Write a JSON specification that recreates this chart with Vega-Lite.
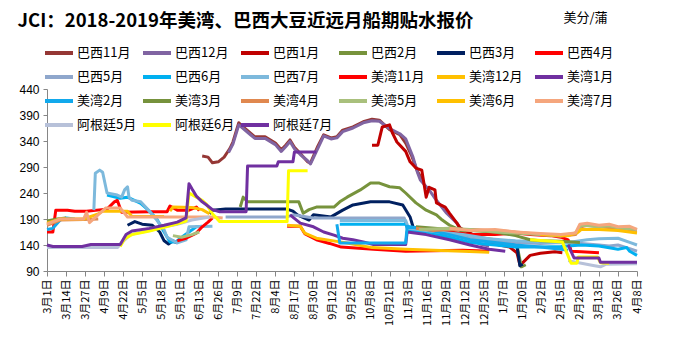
{
  "$schema": "https://vega.github.io/schema/vega-lite/v6.json",
  "autosize": "none",
  "width": 590,
  "height": 182,
  "padding": {"left": 47, "top": 89, "right": 36, "bottom": 70},
  "background": "white",
  "config": {"view": {"stroke": null}, "font": "Noto Sans CJK SC"},
  "data": {"values": [
    {"s":"巴西11月","g":1,"d":"2018-06-15","v":311},{"s":"巴西11月","g":1,"d":"2018-06-19","v":309},{"s":"巴西11月","g":1,"d":"2018-06-22","v":298},{"s":"巴西11月","g":1,"d":"2018-06-26","v":300},{"s":"巴西11月","g":1,"d":"2018-06-30","v":309},{"s":"巴西11月","g":1,"d":"2018-07-04","v":326},{"s":"巴西11月","g":1,"d":"2018-07-06","v":338},{"s":"巴西11月","g":1,"d":"2018-07-10","v":375},{"s":"巴西11月","g":1,"d":"2018-07-13","v":367},{"s":"巴西11月","g":1,"d":"2018-07-18","v":355},{"s":"巴西11月","g":1,"d":"2018-07-21","v":348},{"s":"巴西11月","g":1,"d":"2018-07-28","v":348},{"s":"巴西11月","g":1,"d":"2018-08-04","v":336},{"s":"巴西11月","g":1,"d":"2018-08-08","v":323},{"s":"巴西11月","g":1,"d":"2018-08-11","v":332},{"s":"巴西11月","g":1,"d":"2018-08-14","v":342},{"s":"巴西11月","g":1,"d":"2018-08-17","v":328},{"s":"巴西11月","g":1,"d":"2018-08-21","v":316},{"s":"巴西11月","g":1,"d":"2018-08-26","v":300},{"s":"巴西11月","g":1,"d":"2018-08-28","v":298},{"s":"巴西11月","g":1,"d":"2018-09-02","v":330},{"s":"巴西11月","g":1,"d":"2018-09-06","v":352},{"s":"巴西11月","g":1,"d":"2018-09-11","v":346},{"s":"巴西11月","g":1,"d":"2018-09-15","v":348},{"s":"巴西11月","g":1,"d":"2018-09-19","v":361},{"s":"巴西11月","g":1,"d":"2018-09-26","v":367},{"s":"巴西11月","g":1,"d":"2018-10-03","v":377},{"s":"巴西11月","g":1,"d":"2018-10-09","v":382},{"s":"巴西11月","g":1,"d":"2018-10-14","v":380},{"s":"巴西11月","g":1,"d":"2018-10-21","v":362},{"s":"巴西11月","g":1,"d":"2018-10-28","v":352},{"s":"巴西11月","g":1,"d":"2018-11-01","v":336},{"s":"巴西11月","g":1,"d":"2018-11-05","v":312},{"s":"巴西11月","g":1,"d":"2018-11-09","v":282},{"s":"巴西11月","g":1,"d":"2018-11-13","v":262},

    {"s":"巴西12月","g":1,"d":"2018-07-03","v":318},{"s":"巴西12月","g":1,"d":"2018-07-06","v":334},{"s":"巴西12月","g":1,"d":"2018-07-10","v":371},{"s":"巴西12月","g":1,"d":"2018-07-13","v":364},{"s":"巴西12月","g":1,"d":"2018-07-18","v":352},{"s":"巴西12月","g":1,"d":"2018-07-21","v":345},{"s":"巴西12月","g":1,"d":"2018-07-28","v":345},{"s":"巴西12月","g":1,"d":"2018-08-04","v":333},{"s":"巴西12月","g":1,"d":"2018-08-08","v":320},{"s":"巴西12月","g":1,"d":"2018-08-11","v":329},{"s":"巴西12月","g":1,"d":"2018-08-14","v":339},{"s":"巴西12月","g":1,"d":"2018-08-17","v":325},{"s":"巴西12月","g":1,"d":"2018-08-21","v":314},{"s":"巴西12月","g":1,"d":"2018-08-26","v":302},{"s":"巴西12月","g":1,"d":"2018-08-28","v":296},{"s":"巴西12月","g":1,"d":"2018-09-02","v":326},{"s":"巴西12月","g":1,"d":"2018-09-06","v":350},{"s":"巴西12月","g":1,"d":"2018-09-11","v":344},{"s":"巴西12月","g":1,"d":"2018-09-15","v":346},{"s":"巴西12月","g":1,"d":"2018-09-19","v":358},{"s":"巴西12月","g":1,"d":"2018-09-26","v":365},{"s":"巴西12月","g":1,"d":"2018-10-03","v":375},{"s":"巴西12月","g":1,"d":"2018-10-09","v":379},{"s":"巴西12月","g":1,"d":"2018-10-14","v":378},{"s":"巴西12月","g":1,"d":"2018-10-21","v":364},{"s":"巴西12月","g":1,"d":"2018-10-28","v":354},{"s":"巴西12月","g":1,"d":"2018-11-01","v":344},{"s":"巴西12月","g":1,"d":"2018-11-06","v":309},{"s":"巴西12月","g":1,"d":"2018-11-09","v":280},{"s":"巴西12月","g":1,"d":"2018-11-11","v":265},{"s":"巴西12月","g":1,"d":"2018-11-17","v":246},{"s":"巴西12月","g":1,"d":"2018-11-22","v":226},{"s":"巴西12月","g":1,"d":"2018-11-29","v":201},{"s":"巴西12月","g":1,"d":"2018-12-06","v":182},{"s":"巴西12月","g":1,"d":"2018-12-10","v":165},{"s":"巴西12月","g":1,"d":"2018-12-15","v":150},{"s":"巴西12月","g":1,"d":"2018-12-22","v":142},{"s":"巴西12月","g":1,"d":"2018-12-28","v":138},

    {"s":"巴西1月","g":1,"d":"2018-10-09","v":332},{"s":"巴西1月","g":1,"d":"2018-10-13","v":332},{"s":"巴西1月","g":1,"d":"2018-10-16","v":367},{"s":"巴西1月","g":1,"d":"2018-10-21","v":371},{"s":"巴西1月","g":1,"d":"2018-10-23","v":355},{"s":"巴西1月","g":1,"d":"2018-10-26","v":338},{"s":"巴西1月","g":1,"d":"2018-11-01","v":320},{"s":"巴西1月","g":1,"d":"2018-11-04","v":300},{"s":"巴西1月","g":1,"d":"2018-11-08","v":288},{"s":"巴西1月","g":1,"d":"2018-11-12","v":284},{"s":"巴西1月","g":1,"d":"2018-11-15","v":232},{"s":"巴西1月","g":1,"d":"2018-11-17","v":251},{"s":"巴西1月","g":1,"d":"2018-11-21","v":246},{"s":"巴西1月","g":1,"d":"2018-11-22","v":221},{"s":"巴西1月","g":1,"d":"2018-11-28","v":213},{"s":"巴西1月","g":1,"d":"2018-12-01","v":201},{"s":"巴西1月","g":1,"d":"2018-12-06","v":182},{"s":"巴西1月","g":1,"d":"2018-12-08","v":173},{"s":"巴西1月","g":1,"d":"2018-12-15","v":163},{"s":"巴西1月","g":1,"d":"2018-12-22","v":152},{"s":"巴西1月","g":1,"d":"2018-12-28","v":145},{"s":"巴西1月","g":1,"d":"2019-01-04","v":140},{"s":"巴西1月","g":1,"d":"2019-01-11","v":136},{"s":"巴西1月","g":1,"d":"2019-01-16","v":125},{"s":"巴西1月","g":1,"d":"2019-01-18","v":102},{"s":"巴西1月","g":1,"d":"2019-01-20","v":106},{"s":"巴西1月","g":1,"d":"2019-01-25","v":120},{"s":"巴西1月","g":1,"d":"2019-02-01","v":124},{"s":"巴西1月","g":1,"d":"2019-02-11","v":127},{"s":"巴西1月","g":1,"d":"2019-02-16","v":125},

    {"s":"巴西2月","g":1,"d":"2018-07-11","v":213},{"s":"巴西2月","g":1,"d":"2018-07-13","v":232},{"s":"巴西2月","g":1,"d":"2018-07-16","v":223},{"s":"巴西2月","g":1,"d":"2018-08-20","v":223},{"s":"巴西2月","g":1,"d":"2018-08-23","v":201},{"s":"巴西2月","g":1,"d":"2018-08-27","v":208},{"s":"巴西2月","g":1,"d":"2018-09-01","v":213},{"s":"巴西2月","g":1,"d":"2018-09-13","v":213},{"s":"巴西2月","g":1,"d":"2018-09-17","v":223},{"s":"巴西2月","g":1,"d":"2018-09-22","v":232},{"s":"巴西2月","g":1,"d":"2018-10-01","v":246},{"s":"巴西2月","g":1,"d":"2018-10-08","v":259},{"s":"巴西2月","g":1,"d":"2018-10-14","v":259},{"s":"巴西2月","g":1,"d":"2018-10-21","v":252},{"s":"巴西2月","g":1,"d":"2018-10-28","v":250},{"s":"巴西2月","g":1,"d":"2018-11-01","v":240},{"s":"巴西2月","g":1,"d":"2018-11-08","v":221},{"s":"巴西2月","g":1,"d":"2018-11-15","v":207},{"s":"巴西2月","g":1,"d":"2018-11-22","v":198},{"s":"巴西2月","g":1,"d":"2018-11-26","v":188},{"s":"巴西2月","g":1,"d":"2018-12-01","v":178},{"s":"巴西2月","g":1,"d":"2018-12-08","v":169},{"s":"巴西2月","g":1,"d":"2018-12-13","v":159},{"s":"巴西2月","g":1,"d":"2018-12-20","v":155},{"s":"巴西2月","g":1,"d":"2019-01-01","v":150},{"s":"巴西2月","g":1,"d":"2019-01-10","v":145},{"s":"巴西2月","g":1,"d":"2019-01-16","v":140},{"s":"巴西2月","g":1,"d":"2019-01-19","v":98},{"s":"巴西2月","g":1,"d":"2019-01-22","v":102},

    {"s":"巴西3月","g":1,"d":"2018-04-25","v":178},{"s":"巴西3月","g":1,"d":"2018-04-30","v":185},{"s":"巴西3月","g":1,"d":"2018-05-05","v":180},{"s":"巴西3月","g":1,"d":"2018-05-12","v":178},{"s":"巴西3月","g":1,"d":"2018-05-17","v":165},{"s":"巴西3月","g":1,"d":"2018-05-20","v":148},{"s":"巴西3月","g":1,"d":"2018-05-23","v":142},{"s":"巴西3月","g":1,"d":"2018-05-26","v":148},{"s":"巴西3月","g":1,"d":"2018-05-29","v":144},
    {"s":"巴西3月","g":2,"d":"2018-06-20","v":200},{"s":"巴西3月","g":2,"d":"2018-06-22","v":207},{"s":"巴西3月","g":2,"d":"2018-07-01","v":209},{"s":"巴西3月","g":2,"d":"2018-08-12","v":209},{"s":"巴西3月","g":2,"d":"2018-08-16","v":205},{"s":"巴西3月","g":2,"d":"2018-08-19","v":198},{"s":"巴西3月","g":2,"d":"2018-08-27","v":188},{"s":"巴西3月","g":2,"d":"2018-08-30","v":198},{"s":"巴西3月","g":2,"d":"2018-09-11","v":194},{"s":"巴西3月","g":2,"d":"2018-09-19","v":207},{"s":"巴西3月","g":2,"d":"2018-09-26","v":217},{"s":"巴西3月","g":2,"d":"2018-10-08","v":223},{"s":"巴西3月","g":2,"d":"2018-10-21","v":223},{"s":"巴西3月","g":2,"d":"2018-10-30","v":217},{"s":"巴西3月","g":2,"d":"2018-11-04","v":194},{"s":"巴西3月","g":2,"d":"2018-11-06","v":175},{"s":"巴西3月","g":2,"d":"2018-11-10","v":170},{"s":"巴西3月","g":2,"d":"2018-11-17","v":167},{"s":"巴西3月","g":2,"d":"2018-11-29","v":163},{"s":"巴西3月","g":2,"d":"2018-12-13","v":158},{"s":"巴西3月","g":2,"d":"2018-12-28","v":150},{"s":"巴西3月","g":2,"d":"2019-01-10","v":145},{"s":"巴西3月","g":2,"d":"2019-01-16","v":138},{"s":"巴西3月","g":2,"d":"2019-01-18","v":100},{"s":"巴西3月","g":2,"d":"2019-01-20","v":103},

    {"s":"巴西4月","g":1,"d":"2018-03-01","v":165},{"s":"巴西4月","g":1,"d":"2018-03-05","v":165},{"s":"巴西4月","g":1,"d":"2018-03-07","v":207},{"s":"巴西4月","g":1,"d":"2018-03-15","v":207},{"s":"巴西4月","g":1,"d":"2018-03-20","v":205},{"s":"巴西4月","g":1,"d":"2018-03-28","v":205},{"s":"巴西4月","g":1,"d":"2018-04-11","v":209},{"s":"巴西4月","g":1,"d":"2018-04-16","v":223},{"s":"巴西4月","g":1,"d":"2018-04-18","v":226},{"s":"巴西4月","g":1,"d":"2018-04-21","v":203},{"s":"巴西4月","g":1,"d":"2018-05-10","v":204},{"s":"巴西4月","g":1,"d":"2018-05-22","v":204},{"s":"巴西4月","g":1,"d":"2018-05-24","v":215},{"s":"巴西4月","g":1,"d":"2018-05-29","v":207},{"s":"巴西4月","g":1,"d":"2018-06-06","v":207},{"s":"巴西4月","g":1,"d":"2018-06-11","v":213},{"s":"巴西4月","g":1,"d":"2018-06-13","v":206},
    {"s":"巴西4月","g":2,"d":"2018-11-20","v":168},{"s":"巴西4月","g":2,"d":"2018-12-01","v":165},{"s":"巴西4月","g":2,"d":"2018-12-15","v":160},{"s":"巴西4月","g":2,"d":"2019-01-01","v":160},{"s":"巴西4月","g":2,"d":"2019-01-15","v":163},{"s":"巴西4月","g":2,"d":"2019-01-25","v":160},{"s":"巴西4月","g":2,"d":"2019-02-08","v":158},{"s":"巴西4月","g":2,"d":"2019-02-15","v":155},{"s":"巴西4月","g":2,"d":"2019-02-20","v":150},{"s":"巴西4月","g":2,"d":"2019-02-22","v":128},{"s":"巴西4月","g":2,"d":"2019-03-01","v":127},{"s":"巴西4月","g":2,"d":"2019-03-13","v":125},

    {"s":"巴西5月","g":1,"d":"2018-07-01","v":194},{"s":"巴西5月","g":1,"d":"2018-08-12","v":194},{"s":"巴西5月","g":1,"d":"2018-08-16","v":198},{"s":"巴西5月","g":1,"d":"2018-08-30","v":192},{"s":"巴西5月","g":1,"d":"2018-10-31","v":192},{"s":"巴西5月","g":1,"d":"2018-11-02","v":172},{"s":"巴西5月","g":1,"d":"2018-11-10","v":168},{"s":"巴西5月","g":1,"d":"2018-11-20","v":165},{"s":"巴西5月","g":1,"d":"2018-12-01","v":160},{"s":"巴西5月","g":1,"d":"2018-12-15","v":153},{"s":"巴西5月","g":1,"d":"2019-01-01","v":148},{"s":"巴西5月","g":1,"d":"2019-01-15","v":145},{"s":"巴西5月","g":1,"d":"2019-02-01","v":143},{"s":"巴西5月","g":1,"d":"2019-02-15","v":145},{"s":"巴西5月","g":1,"d":"2019-03-01","v":143},{"s":"巴西5月","g":1,"d":"2019-03-13","v":140},{"s":"巴西5月","g":1,"d":"2019-03-20","v":138},{"s":"巴西5月","g":1,"d":"2019-03-26","v":140},{"s":"巴西5月","g":1,"d":"2019-04-03","v":133},{"s":"巴西5月","g":1,"d":"2019-04-08","v":128},

    {"s":"巴西6月","g":1,"d":"2018-04-11","v":236},{"s":"巴西6月","g":1,"d":"2018-04-20","v":230},{"s":"巴西6月","g":1,"d":"2018-04-25","v":232},{"s":"巴西6月","g":1,"d":"2018-05-04","v":220},{"s":"巴西6月","g":1,"d":"2018-05-10","v":205},{"s":"巴西6月","g":1,"d":"2018-05-15","v":190},{"s":"巴西6月","g":1,"d":"2018-05-20","v":165},{"s":"巴西6月","g":1,"d":"2018-05-24","v":146},{"s":"巴西6月","g":1,"d":"2018-05-28","v":146},{"s":"巴西6月","g":1,"d":"2018-06-01","v":155},{"s":"巴西6月","g":1,"d":"2018-06-06","v":165},{"s":"巴西6月","g":1,"d":"2018-06-11","v":175},{"s":"巴西6月","g":1,"d":"2018-06-15","v":176},
    {"s":"巴西6月","g":2,"d":"2018-09-17","v":180},{"s":"巴西6月","g":2,"d":"2018-11-01","v":180},{"s":"巴西6月","g":2,"d":"2018-11-03","v":168},{"s":"巴西6月","g":2,"d":"2018-11-15","v":165},{"s":"巴西6月","g":2,"d":"2018-12-01","v":155},{"s":"巴西6月","g":2,"d":"2018-12-15","v":145},{"s":"巴西6月","g":2,"d":"2019-01-01","v":140},{"s":"巴西6月","g":2,"d":"2019-01-15","v":136},{"s":"巴西6月","g":2,"d":"2019-02-01","v":136},{"s":"巴西6月","g":2,"d":"2019-02-15","v":137},{"s":"巴西6月","g":2,"d":"2019-03-01","v":140},{"s":"巴西6月","g":2,"d":"2019-03-13","v":138},{"s":"巴西6月","g":2,"d":"2019-03-26","v":132},{"s":"巴西6月","g":2,"d":"2019-04-01","v":135},{"s":"巴西6月","g":2,"d":"2019-04-03","v":128},{"s":"巴西6月","g":2,"d":"2019-04-08","v":120},

    {"s":"巴西7月","g":1,"d":"2018-04-02","v":207},{"s":"巴西7月","g":1,"d":"2018-04-03","v":278},{"s":"巴西7月","g":1,"d":"2018-04-06","v":284},{"s":"巴西7月","g":1,"d":"2018-04-08","v":280},{"s":"巴西7月","g":1,"d":"2018-04-11","v":240},{"s":"巴西7月","g":1,"d":"2018-04-18","v":236},{"s":"巴西7月","g":1,"d":"2018-04-21","v":232},{"s":"巴西7月","g":1,"d":"2018-04-23","v":246},{"s":"巴西7月","g":1,"d":"2018-04-25","v":252},{"s":"巴西7月","g":1,"d":"2018-04-26","v":232},{"s":"巴西7月","g":1,"d":"2018-04-28","v":226},{"s":"巴西7月","g":1,"d":"2018-05-04","v":223},{"s":"巴西7月","g":1,"d":"2018-05-08","v":211},{"s":"巴西7月","g":1,"d":"2018-05-15","v":188},{"s":"巴西7月","g":1,"d":"2018-05-20","v":169},{"s":"巴西7月","g":1,"d":"2018-05-22","v":155},{"s":"巴西7月","g":1,"d":"2018-05-29","v":144},{"s":"巴西7月","g":1,"d":"2018-06-04","v":150},{"s":"巴西7月","g":1,"d":"2018-06-06","v":175},{"s":"巴西7月","g":1,"d":"2018-06-22","v":176},
    {"s":"巴西7月","g":2,"d":"2018-09-17","v":187},{"s":"巴西7月","g":2,"d":"2018-11-01","v":187},{"s":"巴西7月","g":2,"d":"2018-11-03","v":172},{"s":"巴西7月","g":2,"d":"2018-11-20","v":166},{"s":"巴西7月","g":2,"d":"2018-12-10","v":160},{"s":"巴西7月","g":2,"d":"2018-12-28","v":152},{"s":"巴西7月","g":2,"d":"2019-01-15","v":148},{"s":"巴西7月","g":2,"d":"2019-02-01","v":146},{"s":"巴西7月","g":2,"d":"2019-02-20","v":145},{"s":"巴西7月","g":2,"d":"2019-03-05","v":150},{"s":"巴西7月","g":2,"d":"2019-03-13","v":152},{"s":"巴西7月","g":2,"d":"2019-03-26","v":153},{"s":"巴西7月","g":2,"d":"2019-04-03","v":145},{"s":"巴西7月","g":2,"d":"2019-04-08","v":140},

    {"s":"美湾11月","g":1,"d":"2018-05-29","v":148},{"s":"美湾11月","g":1,"d":"2018-06-04","v":153},{"s":"美湾11月","g":1,"d":"2018-06-11","v":163},{"s":"美湾11月","g":1,"d":"2018-06-15","v":175},{"s":"美湾11月","g":1,"d":"2018-06-19","v":184},{"s":"美湾11月","g":1,"d":"2018-06-22","v":192},
    {"s":"美湾11月","g":2,"d":"2018-08-12","v":176},{"s":"美湾11月","g":2,"d":"2018-08-21","v":176},{"s":"美湾11月","g":2,"d":"2018-08-24","v":162},{"s":"美湾11月","g":2,"d":"2018-09-01","v":150},{"s":"美湾11月","g":2,"d":"2018-09-10","v":143},{"s":"美湾11月","g":2,"d":"2018-09-18","v":136},{"s":"美湾11月","g":2,"d":"2018-10-10","v":132},{"s":"美湾11月","g":2,"d":"2018-11-01","v":128},{"s":"美湾11月","g":2,"d":"2018-11-20","v":129},{"s":"美湾11月","g":2,"d":"2018-12-10","v":130},{"s":"美湾11月","g":2,"d":"2018-12-28","v":128},

    {"s":"美湾12月","g":1,"d":"2018-05-24","v":205},{"s":"美湾12月","g":1,"d":"2018-05-26","v":213},{"s":"美湾12月","g":1,"d":"2018-06-08","v":212},{"s":"美湾12月","g":1,"d":"2018-06-15","v":208},{"s":"美湾12月","g":1,"d":"2018-06-20","v":200},
    {"s":"美湾12月","g":2,"d":"2018-08-12","v":178},{"s":"美湾12月","g":2,"d":"2018-08-21","v":176},{"s":"美湾12月","g":2,"d":"2018-08-24","v":163},{"s":"美湾12月","g":2,"d":"2018-09-01","v":153},{"s":"美湾12月","g":2,"d":"2018-09-17","v":146},{"s":"美湾12月","g":2,"d":"2018-09-22","v":144},{"s":"美湾12月","g":2,"d":"2018-10-09","v":135},{"s":"美湾12月","g":2,"d":"2018-11-01","v":132},{"s":"美湾12月","g":2,"d":"2018-11-20","v":130},{"s":"美湾12月","g":2,"d":"2018-12-10","v":128},{"s":"美湾12月","g":2,"d":"2018-12-28","v":126},

    {"s":"美湾1月","g":1,"d":"2018-08-14","v":198},{"s":"美湾1月","g":1,"d":"2018-08-21","v":182},{"s":"美湾1月","g":1,"d":"2018-08-30","v":175},{"s":"美湾1月","g":1,"d":"2018-09-06","v":165},{"s":"美湾1月","g":1,"d":"2018-09-13","v":159},{"s":"美湾1月","g":1,"d":"2018-09-19","v":153},{"s":"美湾1月","g":1,"d":"2018-09-26","v":150},{"s":"美湾1月","g":1,"d":"2018-10-03","v":146},{"s":"美湾1月","g":1,"d":"2018-10-10","v":141},{"s":"美湾1月","g":1,"d":"2018-11-01","v":141},{"s":"美湾1月","g":1,"d":"2018-11-02","v":165},{"s":"美湾1月","g":1,"d":"2018-11-15","v":160},{"s":"美湾1月","g":1,"d":"2018-12-01","v":150},{"s":"美湾1月","g":1,"d":"2018-12-15","v":140},{"s":"美湾1月","g":1,"d":"2018-12-28","v":132},{"s":"美湾1月","g":1,"d":"2019-01-08","v":128},

    {"s":"美湾2月","g":1,"d":"2018-03-01","v":170},{"s":"美湾2月","g":1,"d":"2018-03-05","v":172},{"s":"美湾2月","g":1,"d":"2018-03-10","v":188},{"s":"美湾2月","g":1,"d":"2018-03-14","v":192},{"s":"美湾2月","g":1,"d":"2018-03-20","v":190},
    {"s":"美湾2月","g":2,"d":"2018-09-15","v":180},{"s":"美湾2月","g":2,"d":"2018-09-17","v":144},{"s":"美湾2月","g":2,"d":"2018-11-01","v":144},{"s":"美湾2月","g":2,"d":"2018-11-02","v":176},{"s":"美湾2月","g":2,"d":"2018-11-15","v":170},{"s":"美湾2月","g":2,"d":"2018-12-01","v":160},{"s":"美湾2月","g":2,"d":"2018-12-15","v":150},{"s":"美湾2月","g":2,"d":"2019-01-01","v":145},{"s":"美湾2月","g":2,"d":"2019-01-15","v":140},{"s":"美湾2月","g":2,"d":"2019-02-01","v":136},{"s":"美湾2月","g":2,"d":"2019-02-15","v":132},{"s":"美湾2月","g":2,"d":"2019-02-20","v":130},

    {"s":"美湾3月","g":1,"d":"2018-03-01","v":186},{"s":"美湾3月","g":1,"d":"2018-03-08","v":190},{"s":"美湾3月","g":1,"d":"2018-03-14","v":192},
    {"s":"美湾3月","g":2,"d":"2018-11-08","v":175},{"s":"美湾3月","g":2,"d":"2018-12-01","v":170},{"s":"美湾3月","g":2,"d":"2018-12-15","v":168},{"s":"美湾3月","g":2,"d":"2019-01-01","v":165},{"s":"美湾3月","g":2,"d":"2019-01-15","v":158},{"s":"美湾3月","g":2,"d":"2019-01-25","v":150},{"s":"美湾3月","g":2,"d":"2019-02-01","v":148},{"s":"美湾3月","g":2,"d":"2019-02-15","v":147},{"s":"美湾3月","g":2,"d":"2019-02-28","v":145},

    {"s":"美湾4月","g":1,"d":"2018-03-01","v":178},{"s":"美湾4月","g":1,"d":"2018-03-10","v":188},{"s":"美湾4月","g":1,"d":"2018-03-26","v":189},{"s":"美湾4月","g":1,"d":"2018-04-05","v":190},
    {"s":"美湾4月","g":2,"d":"2018-11-08","v":172},{"s":"美湾4月","g":2,"d":"2018-11-20","v":168},{"s":"美湾4月","g":2,"d":"2018-12-01","v":170},{"s":"美湾4月","g":2,"d":"2018-12-15","v":170},{"s":"美湾4月","g":2,"d":"2019-01-01","v":168},{"s":"美湾4月","g":2,"d":"2019-01-15","v":165},{"s":"美湾4月","g":2,"d":"2019-02-01","v":160},{"s":"美湾4月","g":2,"d":"2019-02-15","v":157},{"s":"美湾4月","g":2,"d":"2019-02-25","v":160},{"s":"美湾4月","g":2,"d":"2019-03-01","v":175},{"s":"美湾4月","g":2,"d":"2019-03-05","v":178},{"s":"美湾4月","g":2,"d":"2019-03-13","v":175},{"s":"美湾4月","g":2,"d":"2019-03-26","v":172},{"s":"美湾4月","g":2,"d":"2019-04-08","v":168},

    {"s":"美湾5月","g":1,"d":"2018-05-26","v":158},{"s":"美湾5月","g":1,"d":"2018-06-01","v":155},{"s":"美湾5月","g":1,"d":"2018-06-08","v":160},{"s":"美湾5月","g":1,"d":"2018-06-13","v":165},
    {"s":"美湾5月","g":2,"d":"2018-11-10","v":170},{"s":"美湾5月","g":2,"d":"2018-12-01","v":172},{"s":"美湾5月","g":2,"d":"2018-12-15","v":170},{"s":"美湾5月","g":2,"d":"2019-01-01","v":165},{"s":"美湾5月","g":2,"d":"2019-01-15","v":163},{"s":"美湾5月","g":2,"d":"2019-02-01","v":160},{"s":"美湾5月","g":2,"d":"2019-02-15","v":158},{"s":"美湾5月","g":2,"d":"2019-02-25","v":163},{"s":"美湾5月","g":2,"d":"2019-03-01","v":178},{"s":"美湾5月","g":2,"d":"2019-03-13","v":175},{"s":"美湾5月","g":2,"d":"2019-03-20","v":177},{"s":"美湾5月","g":2,"d":"2019-03-26","v":173},{"s":"美湾5月","g":2,"d":"2019-04-08","v":170},

    {"s":"美湾6月","g":1,"d":"2018-03-01","v":182},{"s":"美湾6月","g":1,"d":"2018-03-10","v":190},{"s":"美湾6月","g":1,"d":"2018-03-26","v":190},{"s":"美湾6月","g":1,"d":"2018-04-05","v":200},{"s":"美湾6月","g":1,"d":"2018-04-08","v":205},{"s":"美湾6月","g":1,"d":"2018-04-25","v":205},{"s":"美湾6月","g":1,"d":"2018-04-28","v":195},{"s":"美湾6月","g":1,"d":"2018-05-20","v":195},
    {"s":"美湾6月","g":2,"d":"2019-02-01","v":160},{"s":"美湾6月","g":2,"d":"2019-02-20","v":158},{"s":"美湾6月","g":2,"d":"2019-02-27","v":165},{"s":"美湾6月","g":2,"d":"2019-03-01","v":170},{"s":"美湾6月","g":2,"d":"2019-03-13","v":170},{"s":"美湾6月","g":2,"d":"2019-03-26","v":168},{"s":"美湾6月","g":2,"d":"2019-04-08","v":163},

    {"s":"美湾7月","g":1,"d":"2018-03-01","v":180},{"s":"美湾7月","g":1,"d":"2018-03-10","v":190},{"s":"美湾7月","g":1,"d":"2018-03-26","v":190},{"s":"美湾7月","g":1,"d":"2018-03-28","v":203},{"s":"美湾7月","g":1,"d":"2018-03-30","v":183},{"s":"美湾7月","g":1,"d":"2018-04-10","v":211},{"s":"美湾7月","g":1,"d":"2018-04-20","v":211},{"s":"美湾7月","g":1,"d":"2018-04-25","v":194},{"s":"美湾7月","g":1,"d":"2018-06-22","v":194},{"s":"美湾7月","g":1,"d":"2018-06-29","v":192},
    {"s":"美湾7月","g":2,"d":"2018-12-01","v":172},{"s":"美湾7月","g":2,"d":"2018-12-15","v":168},{"s":"美湾7月","g":2,"d":"2019-01-01","v":170},{"s":"美湾7月","g":2,"d":"2019-01-15","v":165},{"s":"美湾7月","g":2,"d":"2019-02-01","v":162},{"s":"美湾7月","g":2,"d":"2019-02-15","v":160},{"s":"美湾7月","g":2,"d":"2019-02-25","v":163},{"s":"美湾7月","g":2,"d":"2019-02-28","v":180},{"s":"美湾7月","g":2,"d":"2019-03-05","v":182},{"s":"美湾7月","g":2,"d":"2019-03-13","v":178},{"s":"美湾7月","g":2,"d":"2019-03-20","v":180},{"s":"美湾7月","g":2,"d":"2019-03-26","v":175},{"s":"美湾7月","g":2,"d":"2019-04-03","v":176},{"s":"美湾7月","g":2,"d":"2019-04-08","v":170},

    {"s":"阿根廷5月","g":1,"d":"2018-03-01","v":135},{"s":"阿根廷5月","g":1,"d":"2018-04-18","v":135},{"s":"阿根廷5月","g":1,"d":"2018-04-22","v":147},{"s":"阿根廷5月","g":1,"d":"2018-04-27","v":160},{"s":"阿根廷5月","g":1,"d":"2018-05-10","v":168},{"s":"阿根廷5月","g":1,"d":"2018-05-20","v":175},{"s":"阿根廷5月","g":1,"d":"2018-05-29","v":180},{"s":"阿根廷5月","g":1,"d":"2018-06-08","v":188},{"s":"阿根廷5月","g":1,"d":"2018-06-20","v":194},
    {"s":"阿根廷5月","g":2,"d":"2019-02-20","v":110},{"s":"阿根廷5月","g":2,"d":"2019-03-01","v":105},{"s":"阿根廷5月","g":2,"d":"2019-03-10","v":100},{"s":"阿根廷5月","g":2,"d":"2019-03-14","v":98},{"s":"阿根廷5月","g":2,"d":"2019-03-18","v":103},{"s":"阿根廷5月","g":2,"d":"2019-04-08","v":104},

    {"s":"阿根廷6月","g":1,"d":"2018-04-20","v":137},{"s":"阿根廷6月","g":1,"d":"2018-04-23","v":152},{"s":"阿根廷6月","g":1,"d":"2018-04-28","v":160},{"s":"阿根廷6月","g":1,"d":"2018-05-10","v":167},{"s":"阿根廷6月","g":1,"d":"2018-05-20","v":174},{"s":"阿根廷6月","g":1,"d":"2018-05-29","v":181},{"s":"阿根廷6月","g":1,"d":"2018-06-04","v":186},{"s":"阿根廷6月","g":1,"d":"2018-06-06","v":240},{"s":"阿根廷6月","g":1,"d":"2018-06-11","v":232},{"s":"阿根廷6月","g":1,"d":"2018-06-15","v":226},{"s":"阿根廷6月","g":1,"d":"2018-06-18","v":218},{"s":"阿根廷6月","g":1,"d":"2018-06-22","v":200},{"s":"阿根廷6月","g":1,"d":"2018-06-27","v":185},{"s":"阿根廷6月","g":1,"d":"2018-08-12","v":185},{"s":"阿根廷6月","g":1,"d":"2018-08-13","v":283},{"s":"阿根廷6月","g":1,"d":"2018-08-26","v":283},
    {"s":"阿根廷6月","g":2,"d":"2019-01-25","v":150},{"s":"阿根廷6月","g":2,"d":"2019-02-16","v":146},{"s":"阿根廷6月","g":2,"d":"2019-02-22","v":105},{"s":"阿根廷6月","g":2,"d":"2019-02-26","v":105},{"s":"阿根廷6月","g":2,"d":"2019-02-27","v":117},{"s":"阿根廷6月","g":2,"d":"2019-03-12","v":117},{"s":"阿根廷6月","g":2,"d":"2019-03-14","v":106},{"s":"阿根廷6月","g":2,"d":"2019-03-20","v":105},

    {"s":"阿根廷7月","g":1,"d":"2018-03-01","v":140},{"s":"阿根廷7月","g":1,"d":"2018-03-05","v":137},{"s":"阿根廷7月","g":1,"d":"2018-03-25","v":137},{"s":"阿根廷7月","g":1,"d":"2018-03-31","v":141},{"s":"阿根廷7月","g":1,"d":"2018-04-20","v":141},{"s":"阿根廷7月","g":1,"d":"2018-04-24","v":160},{"s":"阿根廷7月","g":1,"d":"2018-04-28","v":167},{"s":"阿根廷7月","g":1,"d":"2018-05-10","v":172},{"s":"阿根廷7月","g":1,"d":"2018-05-20","v":178},{"s":"阿根廷7月","g":1,"d":"2018-05-29","v":184},{"s":"阿根廷7月","g":1,"d":"2018-06-04","v":192},{"s":"阿根廷7月","g":1,"d":"2018-06-06","v":258},{"s":"阿根廷7月","g":1,"d":"2018-06-08","v":248},{"s":"阿根廷7月","g":1,"d":"2018-06-11","v":234},{"s":"阿根廷7月","g":1,"d":"2018-06-15","v":223},{"s":"阿根廷7月","g":1,"d":"2018-06-18","v":217},{"s":"阿根廷7月","g":1,"d":"2018-06-22","v":208},{"s":"阿根廷7月","g":1,"d":"2018-06-27","v":204},{"s":"阿根廷7月","g":1,"d":"2018-07-15","v":204},{"s":"阿根廷7月","g":1,"d":"2018-07-16","v":292},{"s":"阿根廷7月","g":1,"d":"2018-08-05","v":292},{"s":"阿根廷7月","g":1,"d":"2018-08-06","v":300},{"s":"阿根廷7月","g":1,"d":"2018-08-16","v":300},{"s":"阿根廷7月","g":1,"d":"2018-08-17","v":319},{"s":"阿根廷7月","g":1,"d":"2018-09-01","v":319},
    {"s":"阿根廷7月","g":2,"d":"2019-02-20","v":140},{"s":"阿根廷7月","g":2,"d":"2019-02-24","v":115},{"s":"阿根廷7月","g":2,"d":"2019-03-13","v":115},{"s":"阿根廷7月","g":2,"d":"2019-03-14","v":107},{"s":"阿根廷7月","g":2,"d":"2019-04-08","v":107}
  ]},
  "mark": {"type": "line", "strokeWidth": 3, "strokeJoin": "round"},
  "encoding": {
    "x": {
      "field": "d", "type": "temporal",
      "scale": {"type": "utc", "nice": false, "domain": [{"year": 2018, "month": 3, "date": 1, "utc": true}, {"year": 2019, "month": 4, "date": 8, "utc": true}]},
      "axis": {
        "title": "JCI：2018-2019年美湾、巴西大豆近远月船期贴水报价",
        "titleX": -30, "titleY": -245, "titleAlign": "left", "titleBaseline": "alphabetic", "titleAngle": 0,
        "titleFont": "Noto Sans CJK SC", "titleFontSize": 18.5, "titleFontWeight": "bold", "titleColor": "#000000",
        "grid": false,
        "values": [
          {"year":2018,"month":3,"date":1,"utc":true},{"year":2018,"month":3,"date":14,"utc":true},{"year":2018,"month":3,"date":27,"utc":true},{"year":2018,"month":4,"date":9,"utc":true},{"year":2018,"month":4,"date":22,"utc":true},{"year":2018,"month":5,"date":5,"utc":true},{"year":2018,"month":5,"date":18,"utc":true},{"year":2018,"month":5,"date":31,"utc":true},{"year":2018,"month":6,"date":13,"utc":true},{"year":2018,"month":6,"date":26,"utc":true},{"year":2018,"month":7,"date":9,"utc":true},{"year":2018,"month":7,"date":22,"utc":true},{"year":2018,"month":8,"date":4,"utc":true},{"year":2018,"month":8,"date":17,"utc":true},{"year":2018,"month":8,"date":30,"utc":true},{"year":2018,"month":9,"date":12,"utc":true},{"year":2018,"month":9,"date":25,"utc":true},{"year":2018,"month":10,"date":8,"utc":true},{"year":2018,"month":10,"date":21,"utc":true},{"year":2018,"month":11,"date":3,"utc":true},{"year":2018,"month":11,"date":16,"utc":true},{"year":2018,"month":11,"date":29,"utc":true},{"year":2018,"month":12,"date":12,"utc":true},{"year":2018,"month":12,"date":25,"utc":true},{"year":2019,"month":1,"date":7,"utc":true},{"year":2019,"month":1,"date":20,"utc":true},{"year":2019,"month":2,"date":2,"utc":true},{"year":2019,"month":2,"date":15,"utc":true},{"year":2019,"month":2,"date":28,"utc":true},{"year":2019,"month":3,"date":13,"utc":true},{"year":2019,"month":3,"date":26,"utc":true},{"year":2019,"month":4,"date":8,"utc":true}
        ],
        "labelExpr": "(utcmonth(datum.value)+1) + '月' + utcdate(datum.value) + '日'",
        "labelAngle": -90, "labelFontSize": 11, "labelFont": "Noto Sans CJK SC", "labelColor": "#000000",
        "labelPadding": 3, "labelOverlap": false, "labelBound": false, "labelFlush": false,
        "tickSize": 5, "tickColor": "#868686", "domainColor": "#868686"
      }
    },
    "y": {
      "field": "v", "type": "quantitative",
      "scale": {"domain": [90, 440], "nice": false, "zero": false},
      "axis": {
        "title": "美分/蒲", "titleAngle": 0, "titleX": 516, "titleY": -65, "titleAlign": "left", "titleBaseline": "bottom",
        "titleFont": "Noto Sans CJK SC", "titleFontSize": 13, "titleFontWeight": "normal", "titleColor": "#000000",
        "values": [90, 140, 190, 240, 290, 340, 390, 440], "grid": false,
        "labelFont": "Liberation Sans", "labelFontSize": 12, "labelColor": "#000000", "labelPadding": 4,
        "tickSize": 4, "tickColor": "#868686", "domainColor": "#868686"
      }
    },
    "color": {
      "field": "s", "type": "nominal",
      "scale": {
        "domain": ["巴西11月","巴西12月","巴西1月","巴西2月","巴西3月","巴西4月","巴西5月","巴西6月","巴西7月","美湾11月","美湾12月","美湾1月","美湾2月","美湾3月","美湾4月","美湾5月","美湾6月","美湾7月","阿根廷5月","阿根廷6月","阿根廷7月"],
        "range": ["#953735","#8064A2","#C00000","#77933C","#002060","#FF0000","#8FA7CC","#00B0F0","#7DB9DC","#FF0000","#FFC000","#7030A0","#12A9EC","#76923C","#E0884F","#A9C07C","#FFC000","#F5A67D","#B7C1D9","#FFFF00","#7030A0"]
      },
      "legend": {
        "title": null, "orient": "none", "legendX": -4, "legendY": -52, "columns": 6, "direction": "horizontal",
        "gridAlign": "all", "columnPadding": -2, "rowPadding": -4,
        "symbolType": "stroke", "symbolSize": 784, "symbolStrokeWidth": 4,
        "labelFont": "Noto Sans CJK SC", "labelFontSize": 13, "labelColor": "#000000", "labelOffset": 2,
        "padding": 0
      }
    },
    "detail": {"field": "g", "type": "nominal"}
  }
}
